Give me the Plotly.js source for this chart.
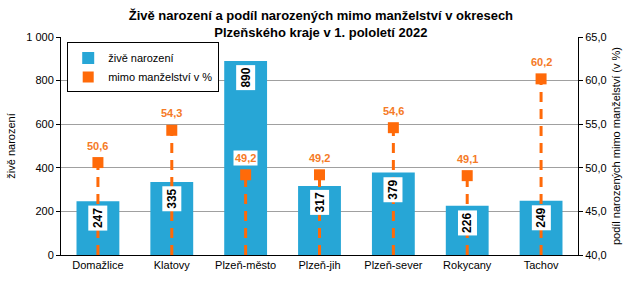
<!DOCTYPE html>
<html>
<head>
<meta charset="utf-8">
<script src="https://cdn.plot.ly/plotly-3.0.1.min.js"></script>
<style>
  body { margin: 0; background: #fff; }
  #chart { width: 638px; height: 283px; }
</style>
</head>
<body>
<div id="chart"></div>
<script>
const okresy = ['Domažlice', 'Klatovy', 'Plzeň-město', 'Plzeň-jih', 'Plzeň-sever', 'Rokycany', 'Tachov']
const ziveNarozeni = [247, 335, 890, 317, 379, 226, 249]
const mimoManzelstvi = [50.6, 54.3, 49.2, 49.2, 54.6, 49.1, 60.2]
const y2Base = 40

const barColor = '#27a6d6'
const orange = '#ff6a09'
const fontFam = '"Liberation Sans", Arial, sans-serif'

// svislé čárkované čáry od osy k bodu
let dropX = []
let dropY = []
okresy.forEach((o, i) => {
  dropX.push(o, o, null)
  dropY.push(y2Base, mimoManzelstvi[i], null)
})

const data = [
  {
    type: 'bar',
    name: 'živě narození',
    x: okresy,
    y: ziveNarozeni,
    width: 0.58,
    marker: {color: barColor},
    hoverinfo: 'skip',
  },
  {
    type: 'scatter',
    mode: 'lines',
    x: dropX,
    y: dropY,
    yaxis: 'y2',
    showlegend: false,
    line: {color: orange, width: 3, dash: '10px,7px'},
    hoverinfo: 'skip',
  },
  {
    type: 'scatter',
    mode: 'markers',
    name: 'mimo manželství v %',
    x: okresy,
    y: mimoManzelstvi,
    yaxis: 'y2',
    marker: {color: orange, symbol: 'square', size: 11},
    hoverinfo: 'skip',
  },
]

let annotations = []
okresy.forEach((o, i) => {
  annotations.push({
    x: o, y: ziveNarozeni[i], xref: 'x', yref: 'y',
    text: String(ziveNarozeni[i]),
    textangle: -90,
    showarrow: false,
    yanchor: 'top',
    yshift: -4,
    bgcolor: '#ffffff',
    borderpad: 2,
    font: {family: fontFam, size: 12, color: '#000', weight: 'bold'},
  })
  annotations.push({
    x: o, y: mimoManzelstvi[i], xref: 'x', yref: 'y2',
    text: mimoManzelstvi[i].toFixed(1).replace('.', ','),
    showarrow: false,
    yanchor: 'middle',
    yshift: 17,
    bgcolor: '#ffffff',
    borderpad: 1,
    font: {family: fontFam, size: 11, color: '#f57a26', weight: 'bold'},
  })
})

const layout = {
  width: 638,
  height: 283,
  separators: ', ',
  paper_bgcolor: '#fff',
  plot_bgcolor: '#fff',
  font: {family: fontFam, size: 11, color: '#000'},
  margin: {l: 61, r: 60, t: 37, b: 28},
  title: {
    text: '<b>Živě narození a podíl narozených mimo manželství v okresech<br>Plzeňského kraje v 1. pololetí 2022</b>',
    font: {family: fontFam, size: 13, color: '#000'},
    x: 0.503, xanchor: 'center',
    yref: 'container', y: 0.93, yanchor: 'middle',
  },
  showlegend: true,
  legend: {
    x: 0.012, y: 0.975, xanchor: 'left', yanchor: 'top',
    bgcolor: '#fff', bordercolor: '#000', borderwidth: 1,
    font: {family: fontFam, size: 11},
    itemwidth: 30,
    tracegroupgap: 0,
  },
  xaxis: {
    showline: true, linecolor: '#000', linewidth: 1,
    ticks: '', showgrid: false,
    tickfont: {size: 11},
  },
  yaxis: {
    range: [0, 1000],
    tickvals: [0, 200, 400, 600, 800, 1000],
    tickformat: ',d',
    showline: true, linecolor: '#000', linewidth: 1,
    ticks: 'outside', ticklen: 4, tickcolor: '#000',
    showgrid: true, gridcolor: '#a0a0a0', gridwidth: 1,
    zeroline: false,
    title: {text: 'živě narození', font: {size: 11}, standoff: 8},
  },
  yaxis2: {
    overlaying: 'y', side: 'right',
    range: [40, 65],
    tickvals: [40, 45, 50, 55, 60, 65],
    tickformat: '.1f',
    showline: true, linecolor: '#000', linewidth: 1,
    ticks: 'outside', ticklen: 4, tickcolor: '#000',
    showgrid: false, zeroline: false,
    title: {text: 'podíl narozených mimo manželství (v %)', font: {size: 11}, standoff: 6},
  },
  annotations,
  bargap: 0.42,
}

Plotly.newPlot('chart', data, layout, {staticPlot: true})
</script>
</body>
</html>
